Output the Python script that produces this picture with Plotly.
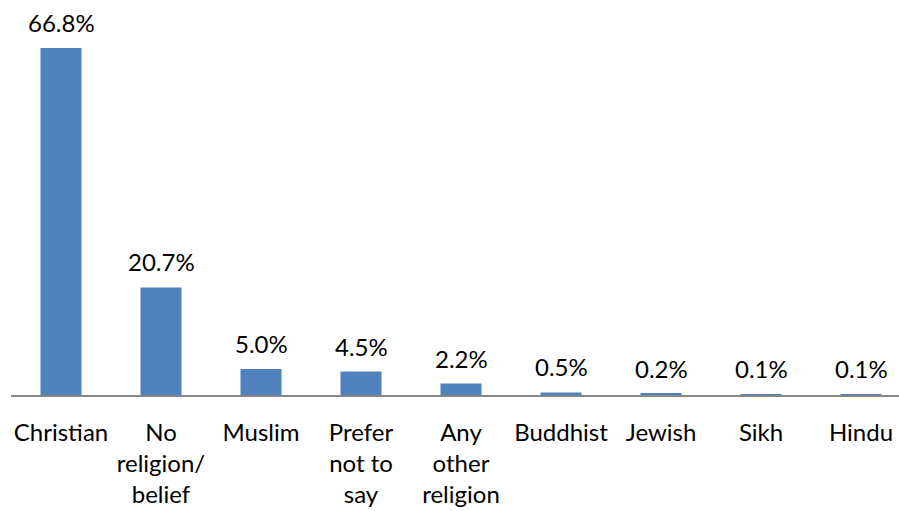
import plotly.graph_objects as go

categories = ["Christian", "No<br>religion/<br>belief", "Muslim", "Prefer<br>not to<br>say",
              "Any<br>other<br>religion", "Buddhist", "Jewish", "Sikh", "Hindu"]
values = [66.8, 20.7, 5.0, 4.5, 2.2, 0.5, 0.2, 0.1, 0.1]
labels = ["66.8%", "20.7%", "5.0%", "4.5%", "2.2%", "0.5%", "0.2%", "0.1%", "0.1%"]

FONT = "Lato"
FS = 24
fig = go.Figure(go.Bar(
    x=list(range(len(categories))), y=values,
    marker=dict(color="#4F81BD", line=dict(width=0)),
    width=0.41, hoverinfo="skip",
))

for i, (v, t) in enumerate(zip(values, labels)):
    fig.add_annotation(x=i, y=v, text=t, showarrow=False, yanchor="bottom",
                       yshift=9, font=dict(family=FONT, size=FS, color="#000000"))

fig.update_layout(
    width=899, height=511,
    margin=dict(l=11, r=0, t=0, b=116, autoexpand=False),
    paper_bgcolor="white", plot_bgcolor="white",
    showlegend=False,
    font=dict(family=FONT, size=FS, color="#000000"),
    xaxis=dict(
        tickmode="array", tickvals=list(range(len(categories))), ticktext=categories,
        range=[-0.5, 8.38], showgrid=False, zeroline=False, automargin=False,
        showline=True, linecolor="#868686", linewidth=1.5,
        ticks="", ticklabelstandoff=15,
        tickfont=dict(family=FONT, size=FS, color="#000000"),
    ),
    yaxis=dict(range=[0, 76.03], visible=False, showgrid=False, zeroline=False,
               automargin=False),
)

fig.write_html(
    "out.html",
    config={"displayModeBar": False},
    post_script="document.body.style.margin='0';document.body.style.overflow='hidden';",
)
